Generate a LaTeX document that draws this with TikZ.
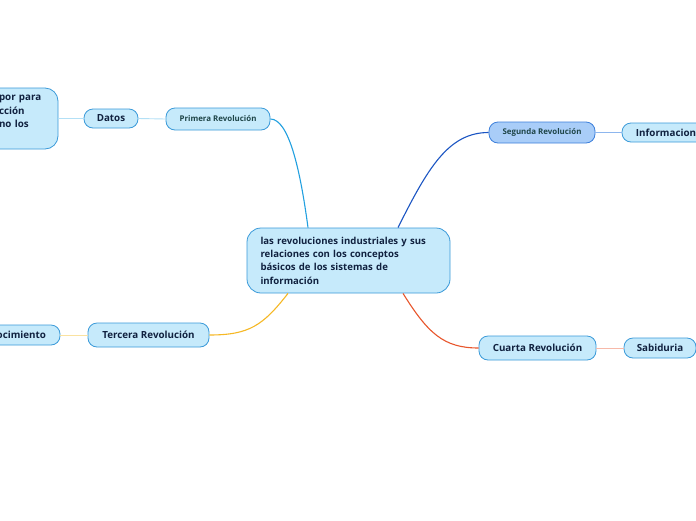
\documentclass[tikz,border=0pt]{standalone}
\usepackage{fontspec}
\setmainfont{Open Sans}
\usetikzlibrary{calc}
\definecolor{nodefill}{HTML}{C6EAFB}
\definecolor{nodeline}{HTML}{3A9AD9}
\definecolor{segfill}{HTML}{A9CDF8}
\definecolor{segline}{HTML}{3C7FDB}
\definecolor{txt}{HTML}{10213F}
\definecolor{txtb}{HTML}{1E4548}
\definecolor{cPrim}{HTML}{22A0E0}
\definecolor{cSeg}{HTML}{1B55C3}
\definecolor{cTer}{HTML}{F6B824}
\definecolor{cCua}{HTML}{E8562C}
\definecolor{lPrim}{HTML}{B3E0F6}
\definecolor{lSeg}{HTML}{8DB6EE}
\definecolor{lTer}{HTML}{FAE2A0}
\definecolor{lCua}{HTML}{F7B9A9}
\begin{document}
\begin{tikzpicture}[x=1pt,y=-1pt,
  box/.style={draw=nodeline, fill=nodefill, line width=0.8pt, rounded corners=9pt,
    font=\bfseries\fontsize{9.8}{11}\selectfont, text=txt, inner sep=0pt},
  small/.style={box, font=\bfseries\fontsize{7.9}{9}\selectfont, text=txtb},
  branch/.style={line width=1.1pt},
  leaf/.style={line width=0.9pt}]
\useasboundingbox (0,0) rectangle (696,520);
\fill[white] (0,0) rectangle (696,520);
% nodes
\node[box, rounded corners=14pt, minimum width=203pt, minimum height=65pt, text width=176pt,
  align=left, font=\bfseries\fontsize{9.6}{13.4}\selectfont] (c) at (348.5,260.5)
  {las revoluciones industriales y sus\\relaciones con los conceptos\\b\'asicos de los sistemas de\\informaci\'on};
\node[small, minimum width=104pt, minimum height=22pt] (p) at (218,119) {Primera Revoluci\'on};
\node[box, minimum width=54pt, minimum height=19pt] (d) at (111,118.5) {Datos};
\node[box, rounded corners=13pt, minimum width=78pt, minimum height=61pt, text width=40pt, align=left,
  font=\bfseries\fontsize{9.8}{13.5}\selectfont] (l) at (19,118.5) {por~para\\cci\'on\\no~los\\\mbox{}};
\node[small, fill=segfill, draw=segline, minimum width=106pt, minimum height=21pt] (s) at (542,132.5) {Segunda Revoluci\'on};
\node[box, minimum width=88pt, minimum height=19pt] (i) at (666,132.5) {Informacion};
\node[box, minimum width=121pt, minimum height=24pt] (t) at (148.5,335) {Tercera Revoluci\'on};
\node[box, minimum width=96pt, minimum height=20pt] (k) at (12,335) {Conocimiento};
\node[box, minimum width=117pt, minimum height=24pt] (q) at (537.5,348) {Cuarta Revoluci\'on};
\node[box, minimum width=72pt, minimum height=20pt] (w) at (660,348) {Sabiduria};
% connectors
\draw[branch, cPrim] ([xshift=-40.5pt]c.north) .. controls +(-8,-60) and +(18,0) .. (p.east);
\draw[branch, cSeg] ([xshift=49.5pt]c.north) .. controls +(30,-60) and +(-40,0) .. (s.west);
\draw[branch, cTer] ([xshift=-60.5pt]c.south) .. controls +(-25,32) and +(40,0) .. (t.east);
\draw[branch, cCua] ([xshift=54.5pt]c.south) .. controls +(25,40) and +(-35,0) .. (q.west);
\draw[leaf, lPrim] (p.west) -- (d.east);
\draw[leaf, lPrim] (d.west) -- (l.east);
\draw[leaf, lSeg] (s.east) -- (i.west);
\draw[leaf, lTer] (t.west) -- (k.east);
\draw[leaf, lCua] (q.east) -- (w.west);
\end{tikzpicture}
\end{document}
